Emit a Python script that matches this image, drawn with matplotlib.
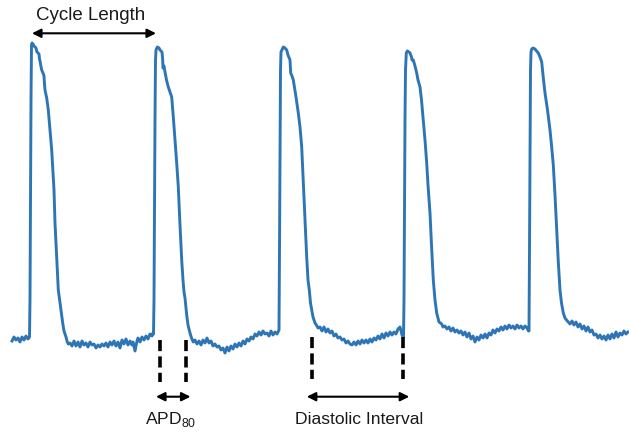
import matplotlib
matplotlib.use("Agg")
import matplotlib.pyplot as plt

# optical action potential trace (time in ms, signal in a.u.)
pre_t = [12, 14, 16, 18, 20, 22, 24, 26, 28, 29.5]
pre_v = [9, 13, 10, 12, 8, 13, 10, 14, 11, 13]

beat1_t = [30, 30.5, 31, 31.5, 32, 33, 34, 35, 36, 37, 38, 39, 39.5, 40, 40.7, 41.7, 43, 44, 44.5, 45,
           46.7, 48.3, 50, 51.7, 53.3, 54, 55, 56.7, 58.3, 60, 62.7, 64, 66, 67, 68.3]
beat1_v = [50, 150, 250, 305, 307, 306, 304, 303, 302, 298, 297, 296, 291, 289, 285, 280, 277, 274, 266, 260,
           252, 240, 220, 200, 173, 160, 127, 93, 60, 47, 27, 19, 13, 9, 6]

base1_t = [70, 72, 74, 76, 78, 80, 82, 84, 86, 88, 90, 92, 94, 96, 98, 100, 102, 104, 106, 108, 110, 112,
           114, 116, 118, 120, 122, 124, 126, 128, 130, 132, 133, 135, 137, 138, 140, 142, 144, 146, 148,
           150, 152, 153]
base1_v = [7, 4, 9, 4, 8, 3, 9, 5, 7, 3, 8, 5, 6, 2, 5, 3, 6, 4, 7, 3, 8, 5,
           9, 4, 8, 2, 10, 6, 11, 5, 9, 5, 8, -1, 9, 12, 8, 13, 10, 14, 11,
           16, 14, 17]

beat2_t = [153.5, 154, 154.5, 155, 155.5, 156, 157.3, 159, 160, 161, 162, 162.7, 163, 164, 165, 166.5, 168.3,
           170, 171.7, 173.3, 175, 176.7, 178.3, 180, 181.7, 183, 184, 185, 186.7, 188, 190, 191.5, 193.3]
beat2_v = [16, 50, 150, 230, 290, 300, 303, 302, 300, 299, 298, 290, 282, 284, 278, 270, 263,
           258, 253, 233, 210, 187, 163, 125, 90, 70, 58, 52, 35, 25, 17, 12, 8]

base2_t = [195, 197, 199, 201, 203, 205, 207, 209, 211, 213, 215, 217, 219, 221, 223, 225, 227, 229, 231,
           233, 235, 237, 239, 241, 243, 245, 247, 249, 251, 253, 255, 257, 259, 261, 263, 265, 267, 269,
           271, 273, 275, 277, 278.5]
base2_v = [10, 6, 9, 5, 10, 7, 12, 7, 9, 4, 6, 3, 4, 0, 2, -3, 3, -1, 4,
           1, 6, 3, 7, 4, 9, 6, 11, 9, 13, 11, 16, 14, 18, 15, 19, 16, 17, 14,
           19, 15, 18, 16, 19]

beat3_t = [279, 279.5, 280, 280.5, 281, 283.3, 285, 286.7, 288, 290, 290.7, 292, 293.3, 296, 298.3, 300,
           301.7, 302.5, 303.3, 305, 306.7, 308, 309.3, 310.5, 311.7, 313, 315, 317, 318, 320]
beat3_v = [20, 100, 200, 280, 298, 303, 302, 300, 295, 290, 277, 274, 270, 253, 237, 223,
           203, 185, 165, 127, 93, 70, 60, 47, 40, 33, 27, 24, 22, 23]

base3_t = [322, 324, 326, 328, 330, 332, 334, 336, 338, 340, 342, 344, 346, 348, 350, 352, 354, 356, 358,
           360, 362, 364, 366, 368, 370, 372, 374, 376, 378, 380, 382, 384, 386, 388, 390, 392, 394, 396,
           398, 400, 402, 403.3]
base3_v = [19, 23, 18, 21, 17, 19, 14, 16, 12, 13, 10, 11, 7, 9, 6, 5, 8, 5, 9,
           6, 10, 7, 10, 7, 11, 8, 12, 10, 14, 11, 16, 12, 17, 14, 18, 15, 18, 16,
           21, 23, 15, 13]

beat4_t = [403.5, 404, 404.5, 405, 405.5, 406.3, 407.3, 409, 410, 411.5, 412, 413.3, 415, 416.7, 418, 420,
           421.5, 423.3, 425, 426.7, 428, 430, 431.5, 433.3, 435, 436.7, 438, 439, 441.7, 443]
beat4_v = [13, 50, 150, 230, 280, 297, 299, 298, 297, 293, 290, 290, 284, 277, 270, 263,
           250, 230, 210, 187, 165, 137, 105, 70, 50, 37, 32, 28, 26, 23]

base4_t = [445, 447, 449, 451, 453, 455, 457, 459, 461, 463, 465, 467, 469, 471, 473, 475, 477, 479, 481,
           483, 485, 487, 489, 491, 493, 495, 497, 499, 501, 503, 505, 507, 509, 511, 513, 515, 517, 519,
           521, 523, 525, 527, 528.5]
base4_v = [24, 21, 23, 19, 22, 18, 20, 17, 19, 15, 18, 13, 17, 11, 14, 8, 13, 10, 15,
           12, 16, 12, 17, 15, 20, 17, 21, 19, 23, 20, 24, 21, 25, 22, 24, 21, 25, 22,
           24, 21, 24, 22, 19]

beat5_t = [529, 529.5, 530, 530.5, 531, 531.7, 533, 535, 536.5, 538.3, 540, 541.7, 543, 545, 547.5, 550,
           551.5, 553.3, 555, 556.7, 558.3, 560, 561.5, 563.3, 565, 566.5, 568.3]
beat5_v = [19, 100, 200, 280, 298, 301, 302, 301, 299, 297, 293, 288, 275, 257, 240, 220,
           205, 185, 155, 120, 88, 60, 47, 37, 32, 30, 28]

base5_t = [570, 572, 574, 576, 578, 580, 582, 584, 586, 588, 590, 592, 594, 596, 598, 600, 602, 604, 606,
           608, 610, 612, 614, 616, 618, 620, 622, 624, 626, 628]
base5_v = [26, 29, 25, 28, 23, 26, 21, 24, 19, 23, 18, 20, 15, 16, 12, 15, 11, 14, 10,
           15, 11, 16, 12, 18, 13, 17, 15, 19, 16, 18]

trace_t = pre_t + beat1_t + base1_t + beat2_t + base2_t + beat3_t + base3_t + beat4_t + base4_t + beat5_t + base5_t
trace_v = pre_v + beat1_v + base1_v + beat2_v + base2_v + beat3_v + base3_v + beat4_v + base4_v + beat5_v + base5_v

# annotation spans (ms)
cycle_span = (32, 156)
apd_marks = (160, 186)
di_marks = (312.3, 402.7)

plt.rcParams['font.family'] = ['Liberation Sans', 'DejaVu Sans']
plt.rcParams['lines.scale_dashes'] = False

fig = plt.figure(figsize=(6.29, 4.32), dpi=100)
ax = fig.add_axes([0, 0, 1, 1])
ax.set_xlim(0, 629)
ax.set_ylim(-82, 350)
ax.axis('off')

ax.plot(trace_t, trace_v, color='#2E75B6', lw=2.1, solid_joinstyle='round')

txt_col = '#1a1a1a'
arrow_kw = dict(arrowstyle='<|-|>', color='black', lw=1.5, mutation_scale=13, shrinkA=0, shrinkB=0)

# cycle length
ax.annotate('', xy=(cycle_span[0], 316.7), xytext=(cycle_span[1], 316.7), arrowprops=arrow_kw)
ax.text(90.5, 329.5, 'Cycle Length', ha='center', va='baseline', fontsize=13.5, color=txt_col)

# APD80
for t in apd_marks:
    ax.plot([t, t], [10, -32], color='black', lw=2.6, dashes=(8, 3.8), solid_capstyle='butt')
ax.annotate('', xy=(apd_marks[0] - 4, -46.7), xytext=(apd_marks[1] + 4.5, -46.7), arrowprops=arrow_kw)
ax.text(145, -74, r'APD$_{\mathregular{80}}$', ha='left', va='baseline', fontsize=12.6, color=txt_col)

# diastolic interval
for t in di_marks:
    ax.plot([t, t], [13, -29], color='black', lw=2.6, dashes=(8, 3.8), solid_capstyle='butt')
ax.annotate('', xy=(di_marks[0] - 5.5, -46.7), xytext=(di_marks[1] + 6.5, -46.7), arrowprops=arrow_kw)
ax.text(359.2, -74, 'Diastolic Interval', ha='center', va='baseline', fontsize=12.6, color=txt_col)

fig.savefig('out.png', dpi=100)
